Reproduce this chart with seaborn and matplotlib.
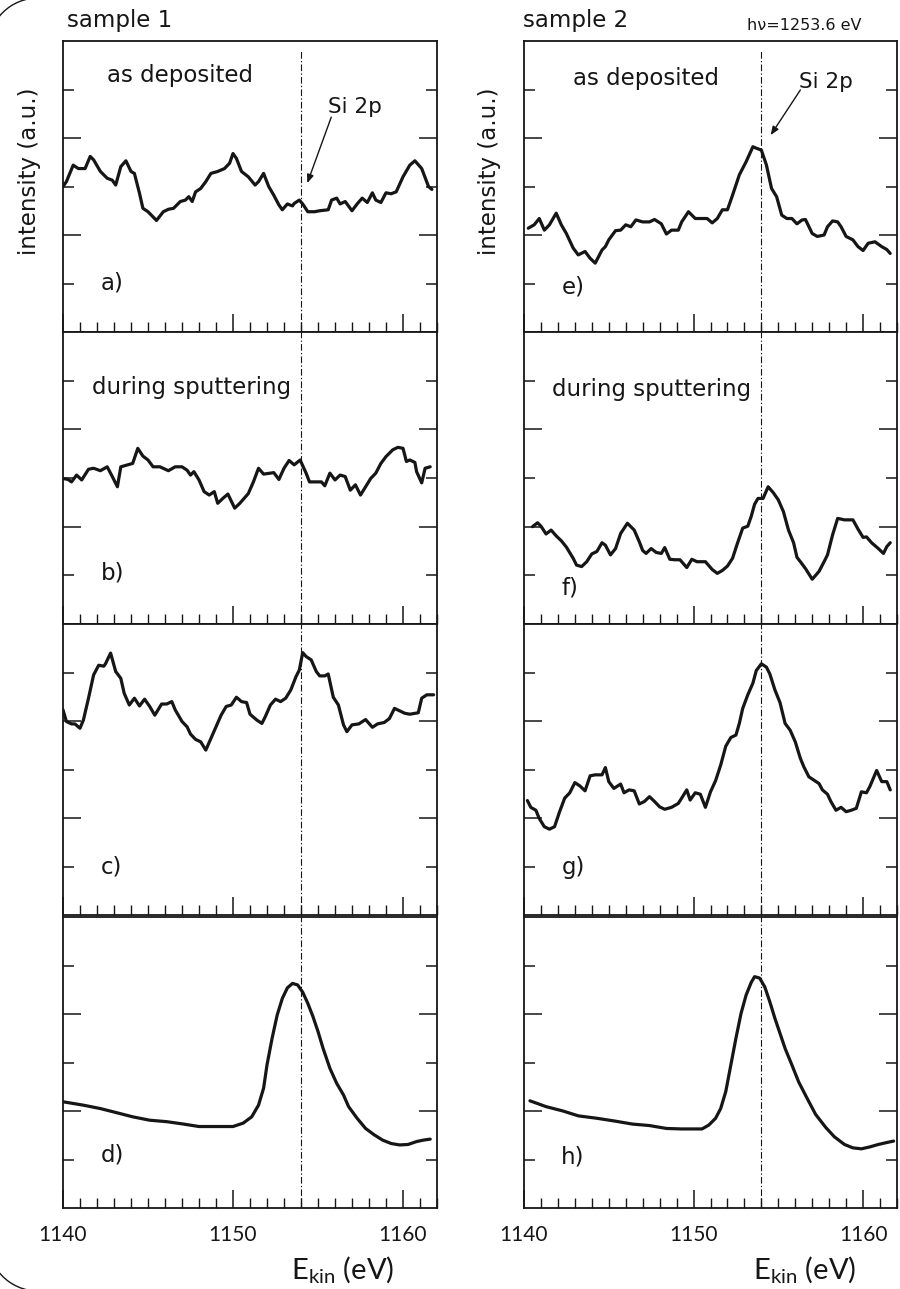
import numpy as np
import pandas as pd
import matplotlib
matplotlib.use("Agg")
import matplotlib.pyplot as plt
import seaborn as sns
from matplotlib.ticker import MultipleLocator, FixedLocator
from matplotlib.patches import Arc

# ---------------- data ----------------
# panel a) sample 1, as deposited
a_x = [1140.0, 1140.2, 1140.6, 1140.9, 1141.3, 1141.6, 1141.8, 1142.2, 1142.6, 1142.9, 1143.1, 1143.4,
       1143.7, 1144.0, 1144.2, 1144.5, 1144.7, 1145.0, 1145.5, 1145.9, 1146.2, 1146.5, 1146.9, 1147.2,
       1147.4, 1147.6, 1147.8, 1148.1, 1148.4, 1148.7, 1149.1, 1149.5, 1149.8, 1150.0, 1150.2, 1150.5,
       1150.9, 1151.3, 1151.5, 1151.8, 1152.1, 1152.4, 1152.7, 1152.9, 1153.2, 1153.5, 1153.6, 1153.9,
       1154.1, 1154.4, 1154.8, 1155.1, 1155.6, 1155.8, 1156.1, 1156.3, 1156.6, 1157.0, 1157.3, 1157.6,
       1157.9, 1158.2, 1158.4, 1158.7, 1159.0, 1159.3, 1159.6, 1160.0, 1160.4, 1160.7, 1161.1, 1161.5,
       1161.7]
a_y = [3.00, 3.10, 3.44, 3.37, 3.37, 3.62, 3.55, 3.31, 3.17, 3.13, 3.03, 3.41,
       3.53, 3.31, 3.27, 2.86, 2.55, 2.48, 2.30, 2.48, 2.53, 2.55, 2.69, 2.72,
       2.79, 2.69, 2.89, 2.96, 3.10, 3.27, 3.31, 3.37, 3.48, 3.68, 3.58, 3.31,
       3.20, 3.03, 3.10, 3.27, 3.00, 2.82, 2.62, 2.52, 2.64, 2.60, 2.65, 2.72,
       2.64, 2.48, 2.48, 2.50, 2.52, 2.72, 2.76, 2.64, 2.69, 2.50, 2.64, 2.76,
       2.67, 2.87, 2.72, 2.67, 2.87, 2.85, 2.89, 3.20, 3.44, 3.53, 3.37, 3.00,
       2.94]

# panel b) sample 1, during sputtering
b_x = [1140.0, 1140.3, 1140.5, 1140.8, 1141.1, 1141.5, 1141.8, 1142.2, 1142.6, 1142.9, 1143.2, 1143.4,
       1143.8, 1144.1, 1144.4, 1144.7, 1145.0, 1145.3, 1145.7, 1146.2, 1146.6, 1147.0, 1147.3, 1147.5,
       1147.7, 1148.0, 1148.3, 1148.6, 1148.9, 1149.1, 1149.4, 1149.7, 1150.1, 1150.4, 1150.9, 1151.2,
       1151.5, 1151.8, 1152.2, 1152.4, 1152.7, 1153.0, 1153.3, 1153.6, 1153.95, 1154.3, 1154.5, 1154.9,
       1155.2, 1155.4, 1155.7, 1156.0, 1156.3, 1156.6, 1156.9, 1157.2, 1157.5, 1157.8, 1158.1, 1158.4,
       1158.7, 1159.0, 1159.4, 1159.7, 1160.0, 1160.2, 1160.4, 1160.7, 1160.8, 1161.1, 1161.3, 1161.6]
b_y = [2.99, 2.97, 2.92, 3.06, 2.96, 3.18, 3.20, 3.15, 3.23, 3.03, 2.82, 3.23,
       3.27, 3.30, 3.61, 3.45, 3.37, 3.23, 3.23, 3.15, 3.23, 3.23, 3.16, 3.06,
       3.13, 2.96, 2.72, 2.65, 2.72, 2.48, 2.58, 2.67, 2.38, 2.48, 2.68, 2.92,
       3.20, 3.08, 3.10, 3.11, 2.97, 3.20, 3.36, 3.27, 3.37, 3.10, 2.92, 2.92,
       2.92, 2.84, 3.10, 2.96, 3.06, 3.03, 2.75, 2.86, 2.65, 2.82, 2.99, 3.10,
       3.30, 3.44, 3.58, 3.63, 3.61, 3.34, 3.37, 3.32, 3.13, 2.90, 3.20, 3.23]

# panel c) sample 1
c_x = [1140.0, 1140.2, 1140.5, 1140.7, 1141.0, 1141.2, 1141.5, 1141.8, 1142.1, 1142.4, 1142.5, 1142.8,
       1143.1, 1143.4, 1143.6, 1143.9, 1144.2, 1144.5, 1144.8, 1145.1, 1145.4, 1145.8, 1146.1, 1146.4,
       1146.6, 1147.0, 1147.3, 1147.5, 1147.8, 1148.1, 1148.4, 1148.7, 1149.0, 1149.3, 1149.6, 1149.9,
       1150.2, 1150.5, 1150.8, 1151.0, 1151.4, 1151.7, 1151.9, 1152.2, 1152.5, 1152.8, 1153.1, 1153.4,
       1153.7, 1153.9, 1154.1, 1154.3, 1154.6, 1154.9, 1155.1, 1155.4, 1155.6, 1155.9, 1156.2, 1156.5,
       1156.7, 1157.0, 1157.4, 1157.8, 1158.2, 1158.5, 1158.9, 1159.2, 1159.5, 1159.8, 1160.1, 1160.4,
       1160.9, 1161.1, 1161.4, 1161.8]
c_y = [4.23, 3.99, 3.94, 3.94, 3.85, 4.02, 4.47, 4.95, 5.15, 5.13, 5.18, 5.40,
       5.02, 4.88, 4.57, 4.33, 4.47, 4.31, 4.45, 4.30, 4.12, 4.35, 4.35, 4.40,
       4.23, 3.99, 3.88, 3.73, 3.62, 3.57, 3.40, 3.64, 3.88, 4.12, 4.30, 4.33,
       4.49, 4.40, 4.38, 4.14, 4.02, 3.95, 4.09, 4.33, 4.45, 4.40, 4.47, 4.64,
       4.91, 5.05, 5.41, 5.33, 5.26, 5.02, 4.93, 4.93, 4.97, 4.49, 4.33, 3.92,
       3.78, 3.92, 3.94, 4.03, 3.87, 3.94, 3.97, 4.05, 4.26, 4.21, 4.16, 4.14,
       4.17, 4.47, 4.54, 4.54]

# panel d) sample 1
d_x = [1140.0, 1141.2, 1142.2, 1143.1, 1144.1, 1145.1, 1146.1, 1147.1, 1148.0, 1149.0, 1150.0, 1150.6,
       1151.1, 1151.5, 1151.8, 1152.0, 1152.3, 1152.6, 1152.9, 1153.2, 1153.5, 1153.8, 1154.1, 1154.4,
       1154.7, 1155.0, 1155.3, 1155.7, 1156.1, 1156.5, 1156.8, 1157.3, 1157.8, 1158.3, 1158.8, 1159.3,
       1159.8, 1160.3, 1160.8, 1161.2, 1161.6]
d_y = [2.19, 2.12, 2.05, 1.97, 1.88, 1.81, 1.78, 1.73, 1.68, 1.68, 1.68, 1.75,
       1.88, 2.12, 2.47, 2.95, 3.50, 3.98, 4.32, 4.54, 4.63, 4.60, 4.45, 4.22,
       3.95, 3.64, 3.29, 2.88, 2.57, 2.33, 2.09, 1.85, 1.64, 1.51, 1.40, 1.33,
       1.30, 1.31, 1.37, 1.40, 1.42]

# panel e) sample 2, as deposited
e_x = [1140.25, 1140.6, 1140.9, 1141.2, 1141.5, 1141.9, 1142.2, 1142.5, 1142.9, 1143.2, 1143.6, 1143.9,
       1144.2, 1144.6, 1144.8, 1145.0, 1145.4, 1145.7, 1146.0, 1146.3, 1146.6, 1147.0, 1147.4, 1147.7,
       1148.1, 1148.4, 1148.7, 1149.1, 1149.3, 1149.7, 1150.1, 1150.5, 1150.8, 1151.1, 1151.4, 1151.7,
       1152.0, 1152.3, 1152.7, 1153.1, 1153.5, 1153.7, 1154.0, 1154.3, 1154.6, 1154.9, 1155.2, 1155.5,
       1155.8, 1156.1, 1156.4, 1156.6, 1157.0, 1157.3, 1157.7, 1157.9, 1158.2, 1158.5, 1158.7, 1159.0,
       1159.4, 1159.7, 1160.0, 1160.3, 1160.7, 1161.1, 1161.4, 1161.6]
e_y = [2.14, 2.21, 2.34, 2.10, 2.21, 2.45, 2.21, 2.03, 1.73, 1.59, 1.66, 1.52,
       1.42, 1.69, 1.76, 1.90, 2.09, 2.10, 2.21, 2.17, 2.31, 2.27, 2.27, 2.32,
       2.23, 2.02, 2.10, 2.10, 2.27, 2.48, 2.34, 2.34, 2.34, 2.25, 2.34, 2.52,
       2.52, 2.82, 3.24, 3.51, 3.82, 3.79, 3.75, 3.44, 2.96, 2.79, 2.41, 2.34,
       2.34, 2.23, 2.31, 2.32, 2.03, 1.97, 2.00, 2.17, 2.29, 2.27, 2.17, 1.97,
       1.90, 1.76, 1.68, 1.83, 1.86, 1.76, 1.70, 1.62]

# panel f) sample 2, during sputtering
f_x = [1140.5, 1140.8, 1141.0, 1141.3, 1141.6, 1141.9, 1142.2, 1142.5, 1142.9, 1143.1, 1143.4, 1143.7,
       1144.0, 1144.3, 1144.6, 1144.8, 1145.1, 1145.4, 1145.7, 1146.1, 1146.5, 1146.8, 1147.0, 1147.2,
       1147.5, 1147.8, 1148.1, 1148.3, 1148.6, 1148.9, 1149.2, 1149.6, 1149.9, 1150.2, 1150.7, 1151.1,
       1151.4, 1151.7, 1152.0, 1152.3, 1152.6, 1152.9, 1153.2, 1153.4, 1153.6, 1153.8, 1154.1, 1154.4,
       1154.7, 1155.0, 1155.3, 1155.6, 1155.9, 1156.1, 1156.3, 1156.6, 1157.0, 1157.4, 1157.7, 1157.9,
       1158.2, 1158.5, 1158.9, 1159.4, 1159.7, 1160.0, 1160.2, 1160.5, 1160.9, 1161.2, 1161.4, 1161.6]
f_y = [2.00, 2.08, 2.01, 1.85, 1.93, 1.81, 1.71, 1.58, 1.35, 1.21, 1.18, 1.28,
       1.44, 1.49, 1.67, 1.62, 1.42, 1.55, 1.86, 2.07, 1.93, 1.69, 1.51, 1.45,
       1.55, 1.47, 1.45, 1.57, 1.33, 1.32, 1.32, 1.16, 1.33, 1.28, 1.28, 1.12,
       1.04, 1.10, 1.19, 1.35, 1.67, 1.97, 2.01, 2.21, 2.46, 2.58, 2.58, 2.82,
       2.70, 2.55, 2.31, 1.93, 1.67, 1.37, 1.28, 1.14, 0.92, 1.08, 1.28, 1.42,
       1.83, 2.17, 2.14, 2.14, 1.95, 1.78, 1.79, 1.67, 1.55, 1.45, 1.59, 1.67]

# panel g) sample 2
g_x = [1140.2, 1140.4, 1140.7, 1140.9, 1141.2, 1141.5, 1141.8, 1142.1, 1142.4, 1142.7, 1143.0, 1143.3,
       1143.6, 1143.9, 1144.2, 1144.6, 1144.8, 1145.0, 1145.3, 1145.7, 1145.9, 1146.2, 1146.5, 1146.8,
       1147.1, 1147.4, 1147.7, 1148.0, 1148.3, 1148.7, 1149.1, 1149.3, 1149.6, 1149.8, 1150.1, 1150.4,
       1150.7, 1151.0, 1151.3, 1151.6, 1151.9, 1152.2, 1152.5, 1152.7, 1152.9, 1153.2, 1153.5, 1153.7,
       1154.0, 1154.3, 1154.5, 1154.8, 1155.1, 1155.4, 1155.7, 1156.0, 1156.3, 1156.5, 1156.8, 1157.1,
       1157.4, 1157.6, 1157.9, 1158.1, 1158.4, 1158.7, 1159.0, 1159.3, 1159.6, 1159.9, 1160.2, 1160.4,
       1160.8, 1161.1, 1161.4, 1161.6]
g_y = [2.36, 2.22, 2.16, 1.99, 1.82, 1.77, 1.82, 2.13, 2.41, 2.52, 2.73, 2.66,
       2.56, 2.87, 2.89, 2.89, 3.04, 2.75, 2.61, 2.70, 2.52, 2.58, 2.56, 2.29,
       2.34, 2.44, 2.34, 2.23, 2.18, 2.22, 2.30, 2.41, 2.58, 2.37, 2.52, 2.49,
       2.22, 2.54, 2.77, 3.09, 3.48, 3.66, 3.71, 3.95, 4.26, 4.54, 4.78, 5.04,
       5.18, 5.11, 4.97, 4.64, 4.38, 3.95, 3.81, 3.57, 3.23, 3.06, 2.85, 2.78,
       2.71, 2.58, 2.49, 2.34, 2.16, 2.22, 2.13, 2.16, 2.20, 2.54, 2.52, 2.65,
       2.98, 2.75, 2.75, 2.58]

# panel h) sample 2
h_x = [1140.35, 1141.3, 1142.3, 1143.2, 1144.3, 1145.4, 1146.4, 1147.4, 1148.4, 1149.3, 1150.5, 1150.9,
       1151.3, 1151.6, 1151.9, 1152.2, 1152.5, 1152.8, 1153.1, 1153.4, 1153.6, 1153.9, 1154.2, 1154.5,
       1154.8, 1155.1, 1155.4, 1155.8, 1156.2, 1156.7, 1157.2, 1157.8, 1158.3, 1158.9, 1159.4, 1159.9,
       1160.4, 1160.9, 1161.4, 1161.8]
h_y = [2.21, 2.09, 2.00, 1.90, 1.85, 1.79, 1.73, 1.70, 1.64, 1.63, 1.63, 1.71,
       1.85, 2.05, 2.40, 2.95, 3.50, 4.01, 4.39, 4.65, 4.77, 4.74, 4.56, 4.25,
       3.91, 3.60, 3.29, 2.95, 2.60, 2.26, 1.93, 1.66, 1.47, 1.31, 1.24, 1.22,
       1.26, 1.31, 1.35, 1.38]

panel_letters = ["a)", "b)", "c)", "d)", "e)", "f)", "g)", "h)"]
letter_y = [1.0, 1.05, 0.99, 1.09, 0.93, 0.74, 0.97, 1.05]
column_titles = ["sample 1", "sample 2"]
condition_labels = ["as deposited", "during sputtering"]
x_ticks = [1140, 1150, 1160]
si2p_energy = 1154.0
photon_label = "h\u03bd=1253.6 eV"
y_label = "intensity (a.u.)"

series = [(a_x, a_y), (b_x, b_y), (c_x, c_y), (d_x, d_y),
          (e_x, e_y), (f_x, f_y), (g_x, g_y), (h_x, h_y)]

# ---------------- style ----------------
sns.set_style("ticks")
plt.rcParams["font.family"] = ["DejaVu Sans"]
plt.rcParams["mathtext.fontset"] = "custom"
plt.rcParams["mathtext.rm"] = "Lato"
plt.rcParams["axes.linewidth"] = 1.3

W, H = 900, 1289
fig = plt.figure(figsize=(W / 100, H / 100), dpi=100)
col_left = [63, 524]
col_right = [437, 897]
row_tb = [(41, 332), (332, 624), (624, 915), (917, 1208)]
ink = "#161616"
LBL = 16.5

axes = {}
for c in range(2):
    for r in range(4):
        t, b = row_tb[r]
        ax = fig.add_axes([col_left[c] / W, 1 - b / H,
                           (col_right[c] - col_left[c]) / W, (b - t) / H])
        axes[(c, r)] = ax
        xs, ys = series[c * 4 + r]
        df = pd.DataFrame({"E": xs, "I": ys})
        sns.lineplot(data=df, x="E", y="I", ax=ax, color=ink, linewidth=2.3,
                     estimator=None, sort=False)
        ax.set_xlim(1140, 1162)
        ax.set_ylim(0, 6)
        ax.set_xlabel("")
        ax.set_ylabel("")
        ax.xaxis.set_major_locator(FixedLocator(x_ticks))
        ax.xaxis.set_minor_locator(MultipleLocator(1))
        ax.yaxis.set_major_locator(FixedLocator([2, 4]))
        ax.yaxis.set_minor_locator(FixedLocator([1, 3, 5]))
        ax.tick_params(axis="x", which="both", direction="in", bottom=True, top=False,
                       color=ink, labelbottom=(r == 3), labelsize=15, pad=12)
        ax.tick_params(axis="x", which="major", length=13, width=1.1)
        ax.tick_params(axis="x", which="minor", length=7, width=1.0)
        ax.tick_params(axis="y", which="both", direction="in", left=True, right=True,
                       labelleft=False, labelright=False, color=ink)
        ax.tick_params(axis="y", which="major", length=13, width=1.1)
        ax.tick_params(axis="y", which="minor", length=8, width=1.1)
        for sp in ax.spines.values():
            sp.set_visible(True)
            sp.set_color(ink)
        for lab in ax.get_xticklabels():
            lab.set_color(ink)
            lab.set_family("Lato")
        ymax = 0.97 if r == 0 else 1.0
        ax.axvline(si2p_energy, ymin=0, ymax=ymax, color=ink, linewidth=0.8,
                   linestyle=(0, (6, 2, 1.2, 2)))
        ax.text(1142.2, letter_y[c * 4 + r], panel_letters[c * 4 + r], fontsize=LBL,
                color=ink, ha="left", va="center")

# condition labels
axes[(0, 0)].text(1142.6, 5.28, condition_labels[0], fontsize=LBL, color=ink, va="center")
axes[(1, 0)].text(1142.9, 5.22, condition_labels[0], fontsize=LBL, color=ink, va="center")
axes[(0, 1)].text(1141.7, 4.85, condition_labels[1], fontsize=LBL, color=ink, va="center")
axes[(1, 1)].text(1141.64, 4.81, condition_labels[1], fontsize=LBL, color=ink, va="center")

# Si 2p annotations
axes[(0, 0)].text(1155.6, 4.64, "Si 2p", fontsize=15.5, color=ink, va="center")
axes[(0, 0)].annotate("", xy=(1154.37, 3.07), xytext=(1155.78, 4.43),
                      arrowprops=dict(arrowstyle="-|>,head_length=0.5,head_width=0.2",
                                      color=ink, lw=1.0, shrinkA=0, shrinkB=0))
axes[(1, 0)].text(1156.2, 5.15, "Si 2p", fontsize=15.5, color=ink, va="center")
axes[(1, 0)].annotate("", xy=(1154.55, 4.06), xytext=(1156.3, 4.99),
                      arrowprops=dict(arrowstyle="-|>,head_length=0.5,head_width=0.2",
                                      color=ink, lw=1.0, shrinkA=0, shrinkB=0))

# figure texts
fig.text(67 / W, 1 - 20 / H, column_titles[0], fontsize=LBL, color=ink, va="center", ha="left")
fig.text(523 / W, 1 - 20 / H, column_titles[1], fontsize=LBL, color=ink, va="center", ha="left")
fig.text(747 / W, 1 - 25 / H, photon_label, fontsize=11.5, color=ink, va="center", ha="left")
fig.text(30 / W, 1 - 171 / H, y_label, fontsize=LBL, color=ink, rotation=90,
         va="center", ha="center")
fig.text(490 / W, 1 - 171 / H, y_label, fontsize=LBL, color=ink, rotation=90,
         va="center", ha="center")
xl = r"E$_{\mathregular{kin}}$ (eV)"
for xc in (343, 805):
    fig.text(xc / W, 1 - 1270 / H, xl, fontsize=21, color=ink, va="center", ha="center",
             family="Lato")

# scan-frame arcs at the left corners
fig.add_artist(Arc((0.38, (H - 48) / 100), 1.0, 1.0, theta1=100, theta2=146,
                   transform=fig.dpi_scale_trans, color=ink, lw=1.0))
fig.add_artist(Arc((0.38, 0.48), 1.0, 1.0, theta1=212, theta2=258,
                   transform=fig.dpi_scale_trans, color=ink, lw=1.0))

fig.savefig("out.png", dpi=100)
